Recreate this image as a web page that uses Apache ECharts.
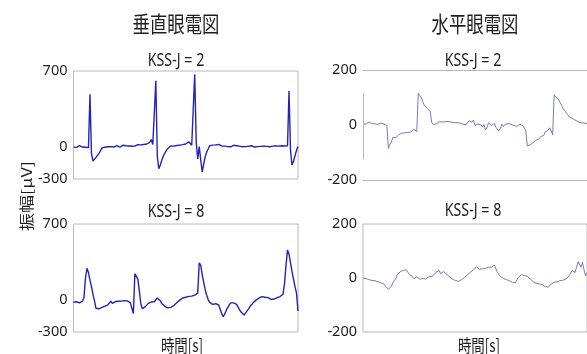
<!DOCTYPE html>
<html>
<head>
<meta charset="utf-8">
<style>
  html, body { margin: 0; padding: 0; background: #fff; }
  #chart { width: 587px; height: 354px; }
</style>
<script src="https://cdn.jsdelivr.net/npm/echarts@6/dist/echarts.min.js"></script>
</head>
<body>
<div id="chart"></div>
<script>
// EOG recordings, one sample every 0.2 s over 30 s (151 samples per trace), amplitude in µV.
const sampleStep = 0.2;

// Vertical EOG, KSS-J = 2
const veogKss2 = [
  -5, 2, -8, 4, 10, 6, -4, 2, -6, -2, -10, 485, -60, -135, -118, -100, -85, -62, -40, -12,
  2, -6, 4, -2, 6, 0, 8, -4, 3, 10, 2, -6, 5, 12, 4, 8, -2, 6, 14, 3,
  9, 4, 12, 18, 8, 16, 10, 20, 14, 24, 18, 40, 65, 20, 30, 610, -90, -205, -170, -125,
  -90, -60, -38, -18, -4, 6, 12, 4, 16, 10, 20, 14, 26, 18, 30, 24, 38, 45, 30, 12,
  10, 670, 40, -115, 0, -120, -235, -160, -95, -50, -22, 8, 18, 14, 24, 16, 10, 20, 12, 6,
  14, 4, 10, 0, 8, -2, 6, 12, 2, 8, -4, 4, 10, -2, 6, 0, -6, 4, -2, 8,
  2, -4, 6, 0, 8, 2, -4, 4, 10, 2, 6, -2, 8, 4, 12, 6, 10, 4, 14, 8,
  12, 6, 10, 8, 515, -40, -170, -135, -85, -35, 0
];

// Vertical EOG, KSS-J = 8
const veogKss8 = [
  -25, -28, -20, -34, -30, -22, -15, 20, 200, 290, 250, 181, 120, 50, -10, -80, -95, -85, -80, -72,
  -65, -60, -55, -48, -44, -15, -35, -22, -18, -12, -15, -10, -14, -12, -10, -14, -12, -18, -30, -80,
  -130, 240, 225, 190, 80, -40, -85, -75, -65, -50, -35, -28, -22, -25, -20, -15, 15, 30, -10, -35,
  -50, -62, -72, -76, -75, -72, -68, -55, -45, -30, -15, -5, 10, 15, 18, 22, 28, 30, 35, 32,
  38, 42, 45, 60, 340, 320, 230, 160, 90, 40, 0, -25, -38, -44, -40, -38, -34, -50, -90, -130,
  -158, -135, -100, -75, -50, -30, -25, -30, -38, -45, -70, -96, -115, -130, -143, -130, -105, -85, -62, -45,
  -30, -15, -5, 5, 15, 22, 28, 25, 22, 20, 18, 10, 2, -4, 5, 12, 18, 25, 28, 38,
  50, 150, 320, 460, 420, 340, 260, 190, 120, 60, -105
];

// Horizontal EOG, KSS-J = 2
const heogKss2 = [
  4, 6, 3, 8, 11, 9, 5, 8, 4, 6, 2, 5, 7, 3, 4, 1, -2, -85, -70, -62,
  -45, -50, -46, -42, -35, -38, -30, -36, -28, -24, -27, -22, -25, -18, -16, -20, -24, 115, 108, 100,
  85, 72, 66, 60, 58, 50, 10, 2, -3, 4, 8, 12, 9, 11, 8, 12, 10, 13, 9, 11,
  7, 9, 5, 8, 4, 7, 5, 3, 6, 1, 8, 15, 22, 10, 18, -2, -6, 4, 6, 0,
  -8, 2, -18, -10, 8, 4, -2, 1, 6, -8, -4, -22, -12, 3, -6, 2, 8, 5, 9, 3,
  6, -2, 4, -5, -4, 3, 7, -2, -6, -20, -76, -80, -72, -66, -64, -58, -55, -48, -50, -42,
  -36, -38, -26, -22, -18, -10, -20, -36, 110, 102, 96, 92, 82, 72, 60, 52, 45, 38, 30, 28,
  24, 22, 18, 16, 12, 10, 8, 6, 7, 5, 4
];

// Horizontal EOG, KSS-J = 8
const heogKss8 = [
  0, -4, -2, -8, -6, -12, -9, -14, -10, -16, -14, -20, -18, -24, -22, -30, -34, -42, -45, -30,
  -18, -10, -2, 12, 8, 24, 20, 28, 22, 30, 24, 14, 18, 6, -2, -6, 4, 0, -4, 2,
  -2, -6, -4, 0, 4, 2, 6, 4, 14, 22, 18, 28, 16, 20, 24, 18, 14, 8, 4, 0,
  -4, -8, -10, -14, -12, -10, -6, -2, 2, 6, 12, 16, 22, 24, 30, 36, 42, 38, 32, 28,
  34, 30, 36, 30, 40, 46, 40, 36, 48, 44, 20, 14, 6, 2, -2, 0, -6, -4, -10, -12,
  -16, -20, -18, -8, 2, 8, 12, 6, 10, 4, 6, 0, -4, -10, -14, -18, -20, -16, -22, -26,
  -24, -30, -32, -36, -34, -28, -22, -18, -16, -12, -14, -8, -10, -6, -8, -2, -4, 0, 8, 18,
  28, 24, 20, 40, 60, 56, 40, 58, 30, 8, 20
];

// Axis ranges and tick labels
const veogRange = [-300, 700];
const veogTicks = [-300, 0, 700];
const heogRange = [-200, 200];
const heogTicks = [-200, 0, 200];

// Text
const columnTitles = ['垂直眼電図', '水平眼電図'];
const panelTitles = ['KSS-J = 2', 'KSS-J = 8'];
const yAxisTitle = '振幅[µV]';
const xAxisTitle = '時間[s]';

const toPairs = arr => arr.map((v, i) => [+(i * sampleStep).toFixed(1), v]);
const tMax = (veogKss2.length - 1) * sampleStep;

const latin = "'Noto Sans', 'Noto Sans CJK JP', sans-serif";
const cjk = "'Noto Sans CJK JP', sans-serif";
const textColor = '#1e1e1e';
const frameColor = '#b8b8b8';
const veogColor = '#2323b8';
const heogColor = '#7a7ab8';
const narrow = 0.79; // horizontal compression of the lettering

const grids = [
  { left: 73.5, top: 71, width: 224.5, height: 108, show: true, borderColor: frameColor, borderWidth: 1 },
  { left: 363, top: 70, width: 226, height: 110, show: false },
  { left: 73.5, top: 224, width: 224.5, height: 108, show: true, borderColor: frameColor, borderWidth: 1 },
  { left: 363, top: 224, width: 226, height: 108, show: true, borderColor: frameColor, borderWidth: 1 }
];

function xAxisFor(gridIndex, extra) {
  return Object.assign({
    type: 'value', gridIndex, min: 0, max: tMax,
    axisLine: { show: false }, axisTick: { show: false },
    axisLabel: { show: false }, splitLine: { show: false }
  }, extra || {});
}

function yAxisFor(gridIndex, range, ticks) {
  return {
    type: 'value', gridIndex, min: range[0], max: range[1],
    axisLine: { show: false }, axisTick: { show: false }, splitLine: { show: false },
    axisLabel: {
      customValues: ticks, color: textColor, fontSize: 14.5, fontFamily: latin, margin: 6
    }
  };
}

const frameLine = { show: true, onZero: false, lineStyle: { color: frameColor, width: 1 } };

// Centred caption drawn with a horizontally narrowed font
function caption(text, x, y, size, family, rotate) {
  const el = {
    type: 'text', x, y,
    style: { text, font: size + 'px ' + family, fill: textColor, align: 'center', verticalAlign: 'middle' }
  };
  if (rotate) {
    el.rotation = Math.PI / 2;
    el.scaleY = narrow;
  } else {
    el.scaleX = narrow;
  }
  return el;
}

const option = {
  animation: false,
  backgroundColor: '#fff',
  grid: grids,
  xAxis: [
    xAxisFor(0),
    xAxisFor(1, { position: 'bottom', axisLine: frameLine }),
    xAxisFor(2),
    xAxisFor(3),
    xAxisFor(1, { position: 'top', axisLine: frameLine })
  ],
  yAxis: [
    yAxisFor(0, veogRange, veogTicks),
    yAxisFor(1, heogRange, heogTicks),
    yAxisFor(2, veogRange, veogTicks),
    yAxisFor(3, heogRange, heogTicks)
  ],
  series: [
    { type: 'line', xAxisIndex: 0, yAxisIndex: 0, data: toPairs(veogKss2), showSymbol: false,
      lineStyle: { color: veogColor, width: 1.4 } },
    { type: 'line', xAxisIndex: 1, yAxisIndex: 1, data: toPairs(heogKss2), showSymbol: false,
      lineStyle: { color: heogColor, width: 1 },
      markLine: {
        silent: true, symbol: 'none', label: { show: false },
        lineStyle: { color: frameColor, width: 1, type: 'solid' },
        data: [[{ coord: [0, -125] }, { coord: [0, 115] }]]
      } },
    { type: 'line', xAxisIndex: 2, yAxisIndex: 2, data: toPairs(veogKss8), showSymbol: false,
      lineStyle: { color: veogColor, width: 1.4 } },
    { type: 'line', xAxisIndex: 3, yAxisIndex: 3, data: toPairs(heogKss8), showSymbol: false,
      lineStyle: { color: heogColor, width: 1 } }
  ],
  graphic: [
    caption(columnTitles[0], 176, 24, 22, cjk),
    caption(columnTitles[1], 475, 24, 22, cjk),
    caption(panelTitles[0], 176, 61, 18, latin),
    caption(panelTitles[0], 473, 61, 18, latin),
    caption(panelTitles[1], 176, 212, 18, latin),
    caption(panelTitles[1], 473, 211, 18, latin),
    caption(yAxisTitle, 27, 196, 18, cjk, true),
    caption(xAxisTitle, 182, 346, 17, cjk),
    caption(xAxisTitle, 479, 346, 17, cjk)
  ]
};

echarts.init(document.getElementById('chart'), null, { renderer: 'canvas' }).setOption(option);
</script>
</body>
</html>
